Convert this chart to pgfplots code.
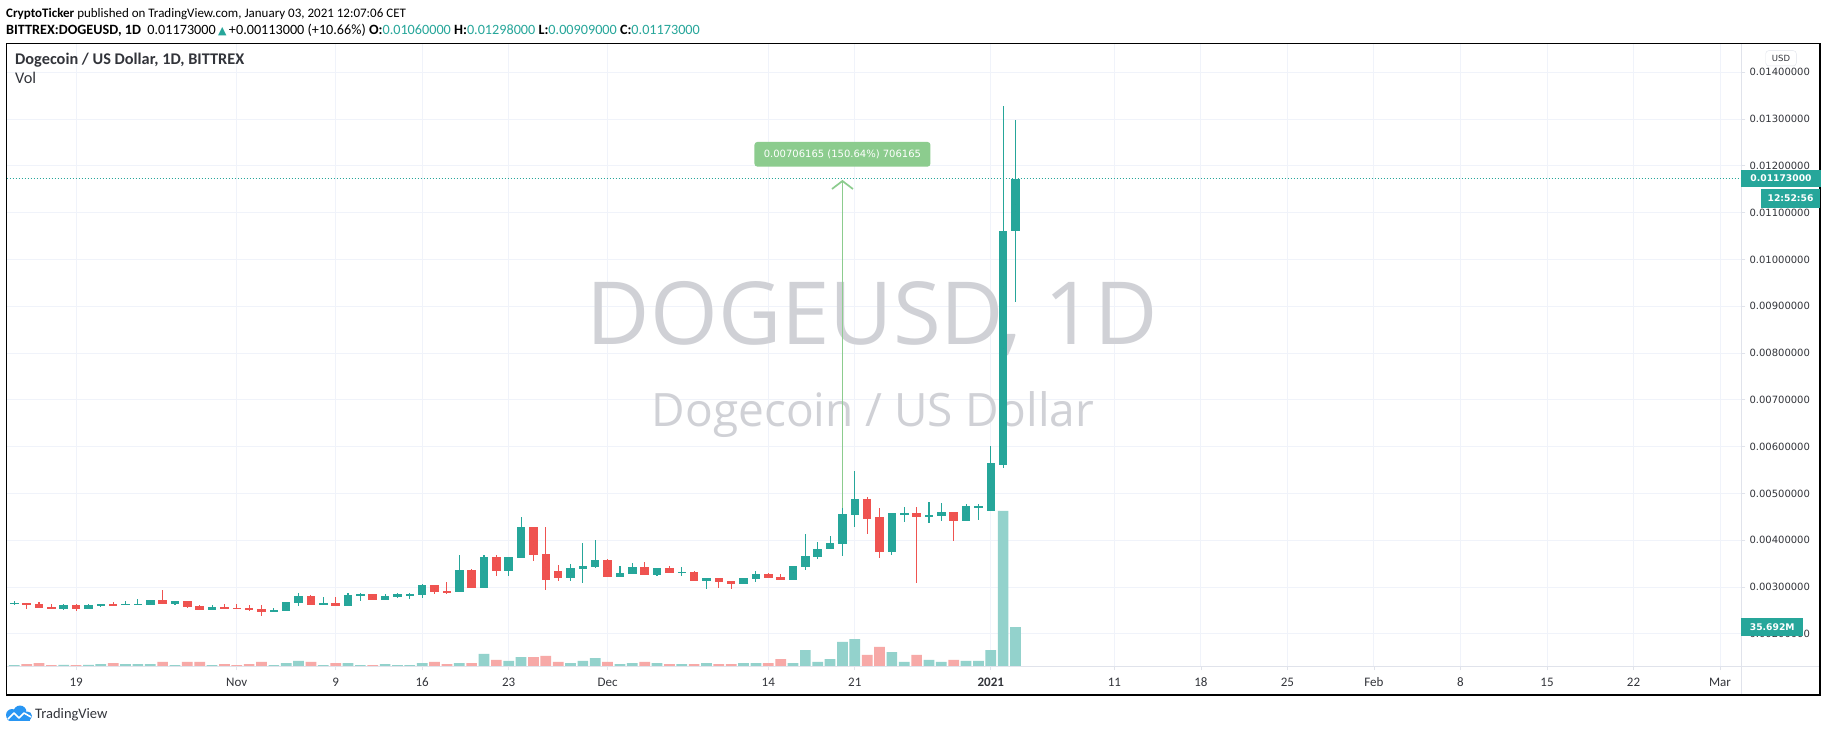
\documentclass[border=0pt]{standalone}
\usepackage{pgfplots}
\pgfplotsset{compat=1.18}
\usepackage{pgfplotstable}
\usetikzlibrary{arrows.meta}
\usepackage{fontspec}
\setmainfont{Carlito}
\newfontfamily\dejavu{DejaVu Sans}
\newfontfamily\opensans{Open Sans}
\definecolor{tvup}{RGB}{38,166,154}
\definecolor{tvdn}{RGB}{239,83,80}
\definecolor{tvvup}{RGB}{147,210,204}
\definecolor{tvvdn}{RGB}{247,169,167}
\definecolor{tvgrid}{RGB}{240,243,250}
\definecolor{tvsep}{RGB}{224,227,235}
\definecolor{tvtext}{RGB}{50,52,58}
\definecolor{tvwm}{RGB}{208,209,214}
\definecolor{tvgreen}{RGB}{140,204,142}
\definecolor{tvblue}{RGB}{41,150,243}

% price values in thousandths of a USD
\pgfplotstableread{
i o h l c
0 2.645 2.702 2.624 2.660
4 2.539 2.638 2.518 2.617
6 2.539 2.638 2.539 2.617
7 2.603 2.645 2.582 2.638
9 2.624 2.695 2.624 2.638
10 2.624 2.745 2.624 2.638
11 2.624 2.723 2.624 2.723
13 2.645 2.702 2.624 2.702
16 2.518 2.617 2.518 2.574
21 2.468 2.553 2.468 2.511
22 2.489 2.681 2.489 2.681
23 2.660 2.872 2.596 2.809
25 2.617 2.787 2.610 2.660
27 2.596 2.872 2.596 2.830
28 2.809 2.872 2.702 2.851
30 2.723 2.851 2.723 2.809
31 2.787 2.872 2.766 2.851
32 2.830 2.872 2.745 2.851
33 2.830 3.064 2.766 3.043
36 2.894 3.681 2.894 3.362
38 2.986 3.681 2.986 3.638
40 3.348 3.638 3.241 3.638
41 3.624 4.489 3.624 4.277
45 3.199 3.489 3.135 3.404
46 3.390 3.936 3.092 3.447
47 3.433 4.000 3.411 3.574
49 3.220 3.447 3.220 3.298
50 3.284 3.511 3.284 3.426
52 3.262 3.404 3.241 3.404
54 3.305 3.426 3.241 3.319
56 3.135 3.191 2.965 3.191
59 3.071 3.191 3.071 3.191
60 3.177 3.340 3.113 3.277
63 3.156 3.447 3.156 3.447
64 3.433 4.128 3.369 3.660
65 3.645 3.957 3.603 3.809
66 3.809 4.085 3.809 3.936
67 3.915 4.745 3.660 4.553
68 4.532 5.489 4.277 4.872
71 3.745 4.574 3.681 4.574
72 4.560 4.702 4.390 4.582
74 4.496 4.809 4.369 4.532
75 4.518 4.787 4.411 4.596
77 4.411 4.766 4.411 4.723
78 4.681 4.766 4.433 4.723
79 4.624 6.016 4.624 5.650
80 5.610 13.280 5.553 10.600
81 10.600 12.980 9.090 11.730
}\upc

\pgfplotstableread{
i o h l c
1 2.660 2.667 2.539 2.624
2 2.638 2.681 2.560 2.560
3 2.574 2.645 2.539 2.539
5 2.617 2.638 2.496 2.539
8 2.638 2.681 2.603 2.617
12 2.723 2.936 2.645 2.645
14 2.702 2.702 2.560 2.582
15 2.596 2.617 2.518 2.518
17 2.574 2.638 2.539 2.539
18 2.553 2.638 2.539 2.539
19 2.553 2.617 2.496 2.511
20 2.532 2.617 2.390 2.468
24 2.809 2.830 2.617 2.617
26 2.660 2.787 2.596 2.596
29 2.851 2.851 2.723 2.723
34 3.043 3.043 2.851 2.894
35 2.915 3.106 2.851 2.894
37 3.362 3.383 2.986 2.986
39 3.638 3.681 3.241 3.348
42 4.277 4.277 3.560 3.688
43 3.702 4.277 2.943 3.156
44 3.340 3.468 3.135 3.199
48 3.574 3.596 3.220 3.220
51 3.426 3.532 3.262 3.262
53 3.404 3.447 3.305 3.305
55 3.319 3.340 3.135 3.135
57 3.191 3.191 2.986 3.113
58 3.128 3.128 2.965 3.071
61 3.277 3.298 3.199 3.199
62 3.213 3.277 3.156 3.156
69 4.872 4.915 4.128 4.447
70 4.489 4.681 3.624 3.745
73 4.574 4.702 3.092 4.496
76 4.596 4.596 3.986 4.411
}\dnc

% volume in millions
\pgfplotstableread{
i v
0 0.9
4 1.0
6 1.0
7 1.8
9 1.8
10 1.8
11 1.8
13 0.9
16 0.9
21 0.9
22 2.7
23 4.6
25 0.9
27 2.7
28 0.9
30 1.8
31 0.9
32 0.9
33 2.7
36 2.7
38 11.0
40 4.6
41 8.2
45 2.7
46 4.6
47 7.3
49 1.8
50 2.7
52 2.7
54 1.8
56 2.7
59 2.7
60 2.7
63 2.7
64 14.6
65 3.7
66 6.4
67 22.0
68 24.7
71 12.8
72 3.7
74 5.5
75 3.7
77 4.6
78 4.6
79 14.6
80 141.9
81 35.692
}\volup

\pgfplotstableread{
i v
1 1.8
2 2.7
3 0.9
5 0.9
8 2.7
12 3.7
14 3.7
15 3.7
17 1.8
18 0.9
19 1.8
20 3.7
24 3.7
26 2.7
29 0.9
34 3.7
35 1.8
37 2.7
39 5.5
42 8.2
43 9.2
44 3.7
48 3.7
51 3.7
53 1.8
55 1.8
57 1.8
58 1.8
61 2.7
62 6.4
69 10.1
70 17.4
73 10.1
76 5.5
}\voldn

\pgfplotsset{
  tvbase/.style={
    at={(6.5pt,66pt)}, anchor=south west, scale only axis,
    width=1734.8pt, height=623pt,
    xmin=-0.63, xmax=139.72,
  },
  candle/.style 2 args={only marks, mark=*, mark size=0pt, mark options={draw=none, fill=none}, forget plot,
    error bars/.cd, y dir=both, y explicit, error mark=none,
    error bar style={draw=#1, line width=#2}},
}

\begin{document}
\begin{tikzpicture}
\fill[white] (0pt,0pt) rectangle (1828pt,732pt);
\useasboundingbox (0pt,0pt) rectangle (1828pt,732pt);

% grid and scales
\begin{axis}[tvbase,
  ymin=1.314, ymax=14.626,
  axis line style={draw=none},
  xtick={5,18,26,33,40,48,61,68,79,89,96,103,110,117,124,131,138},
  xticklabels={19,Nov,9,16,23,Dec,14,21,\textbf{2021},11,18,25,Feb,8,15,22,Mar},
  ytick={2,3,...,14},
  yticklabels={0.00200000,0.00300000,0.00400000,0.00500000,0.00600000,0.00700000,0.00800000,0.00900000,0.01000000,0.01100000,0.01200000,0.01300000,0.01400000},
  xtick pos=bottom, ytick pos=right, yticklabel pos=right,
  tick align=outside, major tick length=4pt,
  tick style={draw=tvsep, line width=0.8pt},
  grid=major, major grid style={draw=tvgrid, line width=1pt},
  xticklabel style={font=\fontsize{13}{13}\selectfont, text=tvtext, anchor=center, yshift=-12pt},
  yticklabel style={font=\dejavu\fontsize{10}{10}\selectfont, text=tvtext, anchor=west, inner sep=0pt, xshift=4pt},
]
\addplot[draw=none, forget plot] coordinates {(0,2) (1,2)};
\end{axis}

% watermark
\node[anchor=base, text=tvwm, font=\opensans\fontsize{87}{87}\selectfont, inner sep=0pt] at (872.5pt,388pt) {DOGEUSD, 1D};
\node[anchor=base, text=tvwm, font=\opensans\fontsize{46}{46}\selectfont, inner sep=0pt] at (873pt,305.3pt) {Dogecoin / US Dollar};

% volume
\begin{axis}[tvbase, ymin=0, ymax=570.2, hide axis]
\addplot[ybar, bar width=0.866, bar shift=0pt, fill=tvvup, draw=none] table[x=i, y=v] {\volup};
\addplot[ybar, bar width=0.866, bar shift=0pt, fill=tvvdn, draw=none] table[x=i, y=v] {\voldn};
\end{axis}

% candles
\begin{axis}[tvbase, ymin=1.314, ymax=14.626, hide axis]
\draw[tvup, line width=1pt, dash pattern=on 1pt off 2pt] (axis cs:-0.63,11.73) -- (axis cs:139.72,11.73);
% wicks
\addplot[candle={tvup}{1.1pt}]
  table[x=i, y expr={(\thisrow{h}+\thisrow{l})/2}, y error expr={(\thisrow{h}-\thisrow{l})/2}] {\upc};
\addplot[candle={tvdn}{1.1pt}]
  table[x=i, y expr={(\thisrow{h}+\thisrow{l})/2}, y error expr={(\thisrow{h}-\thisrow{l})/2}] {\dnc};
% bodies
\addplot[candle={tvup}{8.5pt}]
  table[x=i, y expr={(\thisrow{o}+\thisrow{c})/2}, y error expr={max(abs(\thisrow{c}-\thisrow{o})/2,0.0107)}] {\upc};
\addplot[candle={tvdn}{8.5pt}]
  table[x=i, y expr={(\thisrow{o}+\thisrow{c})/2}, y error expr={max(abs(\thisrow{c}-\thisrow{o})/2,0.0107)}] {\dnc};
% measurement
\draw[tvgreen, line width=1.7pt, -{Straight Barb[length=8pt, width=21pt, line width=1.7pt]}] (axis cs:67,4.695) -- (axis cs:67,11.70);
\node[fill=tvgreen, rounded corners=3pt, minimum width=176pt, minimum height=24.7pt, inner sep=0pt, text=white, font=\dejavu\fontsize{10}{10}\selectfont] at (axis cs:67,12.248) {0.00706165 (150.64\%) 706165};
\end{axis}

% frame and separators
\draw[tvsep, line width=1pt] (1741.3pt,37pt) -- (1741.3pt,688.7pt);
\draw[tvsep, line width=1pt] (6.5pt,66pt) -- (1820pt,66pt);
\draw[black, line width=1.3pt] (6.5pt,37pt) rectangle (1820pt,688.7pt);

% price scale tags
\node[fill=tvup, text=white, font=\dejavu\bfseries\fontsize{9.2}{9.2}\selectfont, minimum width=79.4pt, minimum height=16.7pt, inner sep=0pt] at (1781pt,553.7pt) {0.01173000};
\node[fill=tvup, text=white, font=\dejavu\bfseries\fontsize{9.2}{9.2}\selectfont, minimum width=58.4pt, minimum height=18.4pt, inner sep=0pt] at (1790.5pt,533.5pt) {12:52:56};
\node[fill=white, draw=tvsep, rounded corners=3pt, text=tvtext, font=\dejavu\fontsize{8.5}{8.5}\selectfont, minimum width=30.6pt, minimum height=15.3pt, inner sep=0pt] at (1781pt,673.7pt) {USD};
\node[fill=tvup, text=white, font=\dejavu\bfseries\fontsize{9.2}{9.2}\selectfont, minimum width=61.7pt, minimum height=18.3pt, inner sep=0pt] at (1772.2pt,105.2pt) {35.692M};

% legends inside chart
\node[anchor=base west, inner sep=0pt, text=tvtext, font=\bfseries\fontsize{16.3}{16.3}\selectfont] at (15pt,667pt) {Dogecoin / US Dollar, 1D, BITTREX};
\node[anchor=base west, inner sep=0pt, text=tvtext, font=\fontsize{16.3}{16.3}\selectfont] at (15pt,648.7pt) {Vol};

% header
\node[anchor=base west, inner sep=0pt, text=black, font=\fontsize{13}{13}\selectfont] at (6pt,714pt) {\textbf{CryptoTicker} published on TradingView.com, January 03, 2021 12:07:06 CET};
\node[anchor=base west, inner sep=0pt, text=black, font=\fontsize{14.2}{14.2}\selectfont] at (6pt,697pt) {\textbf{BITTREX:DOGEUSD, 1D}\ \ 0.01173000\,{\color{tvup}\dejavu\fontsize{11}{11}\selectfont ▲}\,+0.00113000 (+10.66\%) \textbf{O:}{\color{tvup}0.01060000} \textbf{H:}{\color{tvup}0.01298000} \textbf{L:}{\color{tvup}0.00909000} \textbf{C:}{\color{tvup}0.01173000}};

% TradingView logo
\fill[tvblue] (10pt,11pt) rectangle (30pt,17pt);
\fill[tvblue] (12pt,17pt) circle (6pt);
\fill[tvblue] (20pt,20pt) circle (6.5pt);
\fill[tvblue] (27.5pt,16pt) circle (4.5pt);
\fill[tvblue] (10pt,14pt) circle (3pt);
\draw[white, line width=1.6pt, line join=round] (8pt,13pt) -- (14pt,19pt) -- (19pt,14pt) -- (24pt,19pt) -- (31pt,15pt);
\node[anchor=base west, inner sep=0pt, text=tvtext, font=\fontsize{14.5}{14.5}\selectfont] at (35pt,14pt) {TradingView};
\end{tikzpicture}
\end{document}
